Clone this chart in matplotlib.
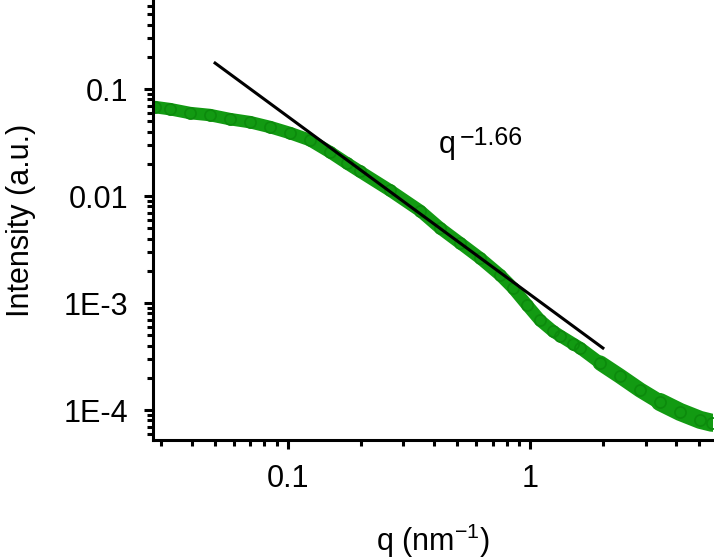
import numpy as np
import matplotlib
matplotlib.use("Agg")
import matplotlib.pyplot as plt
from matplotlib.ticker import LogLocator, FixedLocator, NullFormatter

plt.rcParams['font.family'] = ['Liberation Sans', 'DejaVu Sans']
plt.rcParams['mathtext.fontset'] = 'custom'
plt.rcParams['mathtext.rm'] = 'Liberation Sans'
plt.rcParams['mathtext.it'] = 'Liberation Sans'

# =============================================================================
# data
# =============================================================================
q = [0.0282, 0.0325, 0.0394, 0.0476, 0.0576, 0.0697, 0.0843, 0.102,
     0.123, 0.149, 0.175, 0.198, 0.264, 0.351, 0.425, 0.514, 0.622,
     0.752, 0.851, 0.972, 1.10, 1.245, 1.33, 1.51, 1.61, 1.95, 2.35,
     2.85, 3.44, 4.17, 5.04, 5.65]
intensity = [0.0679, 0.0650, 0.0597, 0.0572, 0.0524, 0.0491, 0.0442,
             0.0388, 0.0334, 0.0258, 0.0203, 0.0170, 0.0113, 0.0073,
             0.00502, 0.00364, 0.00263, 0.00183, 0.00138, 9.6e-4, 6.9e-4,
             5.45e-4, 4.95e-4, 4.15e-4, 3.8e-4, 2.75e-4, 2.08e-4, 1.54e-4,
             1.19e-4, 9.6e-5, 8.1e-5, 7.6e-5]

# power law guide line, end points
fit_q = [0.05, 2.0]
fit_I = [0.175, 3.8e-4]
fit_base = 'q'
fit_exp = '\u22121.66'

ytick_vals = [1e-4, 1e-3, 0.01, 0.1]
ytick_text = ['1E-4', '1E-3', '0.01', '0.1']
xtick_vals = [0.1, 1]
xtick_text = ['0.1', '1']

green = '#129a12'

fig = plt.figure(figsize=(7.14, 5.6), dpi=100)
ax = fig.add_axes([153/714, 120/560, (713-153)/714, 440/560])

# dense band of open circles -> thick line + circles
ax.plot(q, intensity, '-', color=green, lw=9, solid_capstyle='round',
        solid_joinstyle='round', zorder=2)
ax.plot(q[-7:], intensity[-7:], '-', color=green, lw=11,
        solid_capstyle='round', solid_joinstyle='round', zorder=2)
ax.plot(q[-4:], intensity[-4:], '-', color=green, lw=13,
        solid_capstyle='round', solid_joinstyle='round', zorder=2)
ax.plot(q, intensity, 'o', mfc='none', mec='#0c8a0c', ms=8, mew=1.2, zorder=2)
ax.plot(fit_q, fit_I, '-', color='black', lw=2.2, zorder=3)

ax.set_xscale('log')
ax.set_yscale('log')
ax.set_xlim(0.0277, 5.7)
ax.set_ylim(5.25e-5, 0.68)

ax.xaxis.set_major_locator(FixedLocator(xtick_vals))
ax.set_xticklabels(xtick_text)
ax.yaxis.set_major_locator(FixedLocator(ytick_vals))
ax.set_yticklabels(ytick_text)
ax.xaxis.set_minor_locator(LogLocator(base=10, subs=np.arange(2, 10)))
ax.yaxis.set_minor_locator(LogLocator(base=10, subs=np.arange(2, 10)))
ax.xaxis.set_minor_formatter(NullFormatter())
ax.yaxis.set_minor_formatter(NullFormatter())

for s in ['top', 'right']:
    ax.spines[s].set_visible(False)
for s in ['left', 'bottom']:
    ax.spines[s].set_linewidth(2.2)

ax.tick_params(which='major', direction='out', length=6.5, width=2.2,
               labelsize=22, pad=11)
ax.tick_params(which='minor', direction='out', length=4, width=2.2)

ax.set_xlabel(r'q (nm$^{-1}$)', fontsize=22, labelpad=20)
ax.set_ylabel('Intensity (a.u.)', fontsize=22, labelpad=20)

# q^-1.66 label
ax.annotate(fit_base, xy=(439, 407), xycoords='figure pixels', fontsize=22,
            ha='left', va='baseline')
ax.annotate(fit_exp, xy=(460, 415), xycoords='figure pixels', fontsize=18,
            ha='left', va='baseline')

fig.savefig('out.png', dpi=100)
